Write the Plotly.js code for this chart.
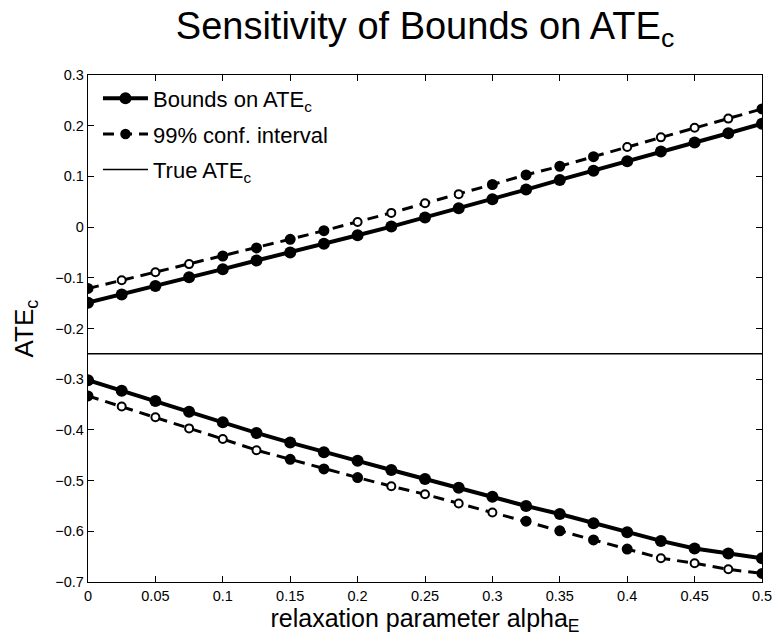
<!DOCTYPE html>
<html>
<head>
<meta charset="utf-8">
<script src="https://cdn.plot.ly/plotly-3.0.1.min.js"></script>
<style>html,body{margin:0;padding:0;background:#fff;}#chart{width:773px;height:640px;}</style>
</head>
<body>
<div id="chart"></div>
<script>
// relaxation parameter alpha_E
const alpha = [0, 0.025, 0.05, 0.075, 0.1, 0.125, 0.15, 0.175, 0.2, 0.225, 0.25,
               0.275, 0.3, 0.325, 0.35, 0.375, 0.4, 0.425, 0.45, 0.475, 0.5];
// bounds on ATE_c
const upperBound = [-0.149, -0.133, -0.116, -0.099, -0.083, -0.066, -0.050, -0.033, -0.016, 0.001, 0.019,
                    0.037, 0.055, 0.074, 0.093, 0.111, 0.130, 0.149, 0.167, 0.185, 0.204];
const lowerBound = [-0.302, -0.323, -0.343, -0.364, -0.385, -0.406, -0.425, -0.444, -0.461, -0.479, -0.497,
                    -0.514, -0.532, -0.550, -0.566, -0.584, -0.602, -0.619, -0.634, -0.644, -0.653];
// 99% confidence interval
const upperCI = [-0.121, -0.105, -0.089, -0.073, -0.057, -0.041, -0.024, -0.007, 0.010, 0.028, 0.047,
                 0.065, 0.084, 0.103, 0.120, 0.139, 0.158, 0.177, 0.196, 0.214, 0.233];
const lowerCI = [-0.333, -0.354, -0.375, -0.397, -0.418, -0.440, -0.458, -0.477, -0.494, -0.511, -0.527,
                 -0.545, -0.563, -0.580, -0.599, -0.617, -0.635, -0.653, -0.663, -0.675, -0.683];
// marker appearance of the CI points (1 = filled, 0 = hollow)
const upperCIFilled = [1,0,0,0,1,1,1,1,0,0,0,0,1,1,1,1,0,0,0,0,1];
const lowerCIFilled = [1,0,0,0,0,0,1,1,1,0,0,0,0,1,1,1,1,0,0,0,1];
// true ATE_c
const trueX = [0, 0.5];
const trueATE = [-0.25, -0.25];

const xTicks = [0, 0.05, 0.1, 0.15, 0.2, 0.25, 0.3, 0.35, 0.4, 0.45, 0.5];
const xTickText = ['0','0.05','0.1','0.15','0.2','0.25','0.3','0.35','0.4','0.45','0.5'];
const yTicks = [-0.7, -0.6, -0.5, -0.4, -0.3, -0.2, -0.1, 0, 0.1, 0.2, 0.3];
const yTickText = ['\u22120.7','\u22120.6','\u22120.5','\u22120.4','\u22120.3','\u22120.2','\u22120.1','0','0.1','0.2','0.3'];

const FONT = 'Liberation Sans, Arial, Helvetica, sans-serif';
const BLACK = 'rgb(0,0,0)';

function ciMarker(filled) {
  return {
    symbol: 'circle',
    opacity: 1,
    size: filled.map(f => f ? 9 : 8),
    color: filled.map(f => f ? BLACK : 'rgb(255,255,255)'),
    line: {color: BLACK, width: 2}
  };
}

const traces = [
  {x: alpha, y: upperBound, name: 'Bounds on ATE<sub>c</sub>', legendgroup: 'b', mode: 'lines+markers',
   line: {color: BLACK, width: 4}, marker: {symbol: 'circle', size: 12, color: BLACK, opacity: 1}},
  {x: alpha, y: lowerBound, name: 'Bounds on ATE<sub>c</sub>', legendgroup: 'b', showlegend: false, mode: 'lines+markers',
   line: {color: BLACK, width: 4}, marker: {symbol: 'circle', size: 12, color: BLACK, opacity: 1}},
  {x: alpha, y: upperCI, name: '99% conf. interval', legendgroup: 'ci', mode: 'lines+markers',
   line: {color: BLACK, width: 3, dash: '11px,7px'}, marker: ciMarker(upperCIFilled)},
  {x: alpha, y: lowerCI, name: '99% conf. interval', legendgroup: 'ci', showlegend: false, mode: 'lines+markers',
   line: {color: BLACK, width: 3, dash: '11px,7px'}, marker: ciMarker(lowerCIFilled)},
  {x: trueX, y: trueATE, name: 'True ATE<sub>c</sub>', legendgroup: 't', mode: 'lines',
   line: {color: BLACK, width: 1.5}}
];

const layout = {
  width: 773, height: 640,
  margin: {l: 88, r: 11, t: 75, b: 58},
  paper_bgcolor: 'white', plot_bgcolor: 'white',
  font: {family: FONT, color: 'black', size: 14},
  showlegend: true,
  title: {text: 'Sensitivity of Bounds on ATE<sub>c</sub>', font: {family: FONT, size: 38, color: 'black'},
          x: 0.5, xref: 'paper', xanchor: 'center', y: 0.96, yref: 'container', yanchor: 'middle'},
  xaxis: {
    range: [0, 0.5], tickvals: xTicks, ticktext: xTickText,
    ticks: 'inside', ticklen: 6, tickwidth: 1, tickcolor: 'black',
    showline: true, linecolor: 'black', linewidth: 1.3, mirror: 'ticks',
    showgrid: false, zeroline: false,
    tickfont: {family: FONT, size: 14.5, color: 'black'},
    title: {text: 'relaxation parameter alpha<sub>E</sub>', font: {family: FONT, size: 25, color: 'black'}, standoff: 2}
  },
  yaxis: {
    range: [-0.7, 0.3], tickvals: yTicks, ticktext: yTickText,
    ticks: 'inside', ticklen: 6, tickwidth: 1, tickcolor: 'black',
    showline: true, linecolor: 'black', linewidth: 1.3, mirror: 'ticks',
    showgrid: false, zeroline: false,
    tickfont: {family: FONT, size: 14.5, color: 'black'},
    title: {text: 'ATE<sub>c</sub>', font: {family: FONT, size: 26, color: 'black'}, standoff: 14}
  },
  legend: {
    x: 0.0148, y: 0.995, xanchor: 'left', yanchor: 'top',
    bgcolor: 'rgba(0,0,0,0)', borderwidth: 0,
    font: {family: FONT, size: 22, color: 'black'},
    itemwidth: 45, tracegroupgap: 4
  }
};

Plotly.newPlot('chart', traces, layout, {displayModeBar: false, staticPlot: true});
</script>
</body>
</html>
